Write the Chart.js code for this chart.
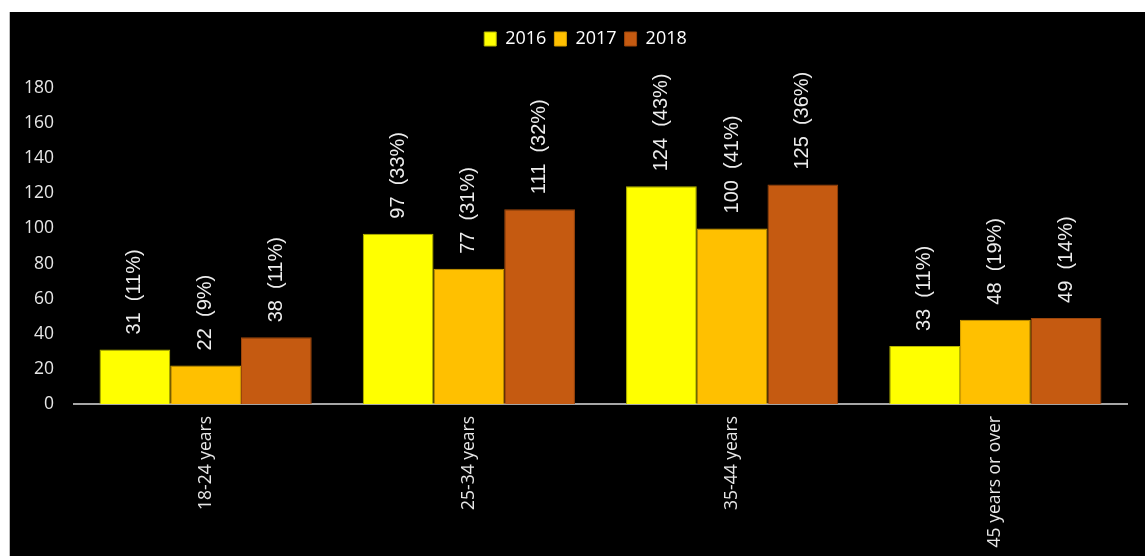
<!DOCTYPE html>
<html>
<head>
<meta charset="utf-8">
<script src="https://cdn.jsdelivr.net/npm/chart.js@4/dist/chart.umd.min.js"></script>
<style>
  html, body { margin: 0; padding: 0; background: #fff; }
  #box {
    position: absolute; left: 9px; top: 12px;
    width: 1135px; height: 544px;
    background: #000; border-left: 1px solid #bdbdbd;
  }
</style>
</head>
<body>
<div id="box"><canvas id="ageChart"></canvas></div>
<script>
// 年齢層ごとの件数
const ageGroups = ["18-24 years", "25-34 years", "35-44 years", "45 years or over"];
const years = ["2016", "2017", "2018"];
const cases2016 = [31, 97, 124, 33];
const cases2017 = [22, 77, 100, 48];
const cases2018 = [38, 111, 125, 49];
const share2016 = [11, 33, 43, 11];
const share2017 = [9, 31, 41, 19];
const share2018 = [11, 32, 36, 14];
const yTicks = [0, 20, 40, 60, 80, 100, 120, 140, 160, 180];

const colors = ["#ffff00", "#ffc000", "#c55a11"];
const borders = ["#b5b500", "#d49f00", "#9c460c"];
const shares = [share2016, share2017, share2018];

// 棒の上に縦書きラベル
const barLabels = {
  id: "barLabels",
  afterDatasetsDraw(chart) {
    const ctx = chart.ctx;
    ctx.save();
    ctx.fillStyle = "#ededed";
    ctx.font = "20px 'Liberation Sans', Arial, sans-serif";
    ctx.textAlign = "left";
    ctx.textBaseline = "middle";
    chart.data.datasets.forEach((ds, i) => {
      chart.getDatasetMeta(i).data.forEach((bar, j) => {
        const txt = ds.data[j] + "  (" + shares[i][j] + "%)";
        ctx.save();
        ctx.translate(bar.x, bar.y - 15);
        ctx.rotate(-Math.PI / 2);
        ctx.fillText(txt, 0, 0);
        ctx.restore();
      });
    });
    ctx.restore();
  }
};

// 凡例の位置調整
const legendGap = {
  id: "legendGap",
  beforeInit(chart) {
    const fit = chart.legend.fit;
    chart.legend.fit = function () {
      fit.bind(chart.legend)();
      this.height = 66;
    };
  },
  afterLayout(chart) {
    chart.legend.left += 17;
    chart.legend.right += 17;
  }
};

new Chart(document.getElementById("ageChart"), {
  type: "bar",
  data: {
    labels: ageGroups,
    datasets: [cases2016, cases2017, cases2018].map((d, i) => ({
      label: years[i],
      data: d,
      backgroundColor: colors[i],
      borderColor: borders[i],
      borderWidth: 1,
      barPercentage: 1,
      categoryPercentage: 0.806
    }))
  },
  options: {
    responsive: true,
    maintainAspectRatio: false,
    animation: false,
    layout: { padding: { top: 10, right: 18, left: 0, bottom: 0 } },
    plugins: {
      legend: {
        labels: {
          color: "#ffffff",
          font: { family: "'Open Sans', sans-serif", size: 18 },
          boxWidth: 12,
          boxHeight: 14,
          padding: 8
        }
      },
      tooltip: { enabled: false }
    },
    scales: {
      x: {
        grid: { display: false, drawTicks: false },
        border: { display: true, color: "#a6a6a6", width: 2 },
        ticks: {
          color: "#e6e6e6",
          font: { family: "'Open Sans', sans-serif", size: 17.5 },
          minRotation: 90,
          maxRotation: 90,
          padding: 12
        },
        afterFit(scale) { scale.height = 152; }
      },
      y: {
        min: 0,
        max: 180,
        grid: { display: false, drawTicks: false },
        border: { display: false },
        afterBuildTicks(scale) { scale.ticks = yTicks.map(v => ({ value: v })); },
        ticks: {
          color: "#e6e6e6",
          font: { family: "'Open Sans', sans-serif", size: 17.5 },
          padding: 20
        },
        afterFit(scale) { scale.width = 64; }
      }
    }
  },
  plugins: [barLabels, legendGap]
});
</script>
</body>
</html>
